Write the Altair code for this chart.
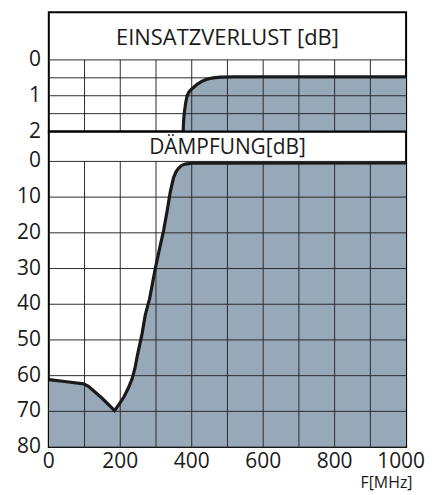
import altair as alt
import pandas as pd

# ---- data ----
freq_ticks = [0, 200, 400, 600, 800]
freq_last = [1000]
grid_freq = [100, 200, 300, 400, 500, 600, 700, 800, 900]
top_grid = [0, 0.5, 1, 1.5, 2]
top_labels = [0, 1, 2]
bot_grid = [0, 10, 20, 30, 40, 50, 60, 70, 80]
bot_labels = [0, 10, 20, 30, 40, 50, 60, 70, 80]

# Einsatzverlust [dB]
top_freq = [376, 377, 379, 383, 387, 392, 398, 405, 415, 428, 442, 460, 480, 520, 1000]
top_loss = [2.0, 1.75, 1.5, 1.2, 1.0, 0.9, 0.83, 0.77, 0.68, 0.6, 0.54, 0.5, 0.48, 0.47, 0.47]

# Dämpfung [dB]
bot_freq = [0, 50, 97, 111, 150, 184, 197, 210, 222, 233, 241, 247, 254, 261, 270,
            282, 298, 312, 321, 331, 340, 349, 356, 363, 372, 382, 400, 1000]
bot_att = [61.1, 61.7, 62.3, 63, 66.4, 69.8, 68, 66, 63.6, 60.9, 58, 54.8, 51.5, 48.3, 43,
           38.5, 30, 23.5, 19.5, 14, 8.5, 4.6, 2.9, 1.9, 1.1, 0.75, 0.46, 0.45]

FONT = "Open Sans"
FILL = "#97a9b8"
INK = "#1a1a1a"
GRID = "#2a2a2a"
W = 359

xs = alt.Scale(domain=[0, 1000], nice=False, zero=False)


def panel(freq, vals, ymax, band, height, grid_y, label_vals, title, title_size,
          title_y, bottom):
    df = pd.DataFrame({"f": freq, "v": vals})
    ys = alt.Scale(domain=[band, ymax], reverse=True, nice=False, zero=False)
    if bottom:
        xaxis = alt.Axis(labels=False, grid=False, ticks=False, domain=False,
                         title="F[MHz]", titleFont=FONT, titleFontSize=16,
                         titleFontWeight="normal", titleColor=INK, titleX=W + 6,
                         titleY=41, titleAlign="right", titleBaseline="alphabetic")
    else:
        xaxis = None
    yaxis = alt.Axis(labels=False, grid=False, ticks=False, domain=False,
                     minExtent=40, maxExtent=40, title=None)

    area = alt.Chart(df).mark_area(color=FILL, opacity=1, clip=True).encode(
        x=alt.X("f:Q", scale=xs, axis=xaxis),
        y=alt.Y("v:Q", scale=ys, axis=yaxis),
        y2=alt.datum(ymax),
    )
    vgrid = alt.Chart(pd.DataFrame({"g": grid_freq})).mark_rule(
        color=GRID, strokeWidth=1).encode(
        x=alt.X("g:Q", scale=xs), y=alt.datum(0), y2=alt.datum(ymax))
    hgrid = alt.Chart(pd.DataFrame({"h": grid_y})).mark_rule(
        color=GRID, strokeWidth=1).encode(
        y=alt.Y("h:Q", scale=ys), x=alt.datum(0), x2=alt.datum(1000))
    line = alt.Chart(df).mark_line(color=INK, strokeWidth=3.2, clip=True).encode(
        x=alt.X("f:Q", scale=xs), y=alt.Y("v:Q", scale=ys))
    txt = alt.Chart(pd.DataFrame({"t": [title]})).mark_text(
        font=FONT, fontSize=title_size, color=INK, align="center",
        baseline="alphabetic").encode(
        x=alt.datum(500), y=alt.datum(title_y), text="t:N")
    ylab = alt.Chart(pd.DataFrame({"l": label_vals,
                                   "s": [str(v) for v in label_vals]})).mark_text(
        font=FONT, fontSize=21, color=INK, align="right", baseline="middle", dx=-8).encode(
        x=alt.datum(0), y=alt.Y("l:Q", scale=ys), text="s:N")
    layers = [area, vgrid, hgrid, line, txt, ylab]
    if bottom:
        xlab = alt.Chart(pd.DataFrame({"k": freq_ticks,
                                       "s": [str(v) for v in freq_ticks]})).mark_text(
            font=FONT, fontSize=21, color=INK, align="center", baseline="top", dy=4).encode(
            x=alt.X("k:Q", scale=xs), y=alt.datum(ymax), text="s:N")
        xlab2 = alt.Chart(pd.DataFrame({"k": freq_last,
                                        "s": [str(v) for v in freq_last]})).mark_text(
            font=FONT, fontSize=21, color=INK, align="center", baseline="top",
            dy=4, dx=-5).encode(
            x=alt.X("k:Q", scale=xs), y=alt.datum(ymax), text="s:N")
        layers += [xlab, xlab2]
    return alt.layer(*layers).properties(width=W, height=height)


top = panel(top_freq, top_loss, 2, -1.3333, 120, top_grid, top_labels,
            "EINSATZVERLUST [dB]", 22, -0.41, False)
bottom = panel(bot_freq, bot_att, 80, -8.36, 317, bot_grid, bot_labels,
               "DÄMPFUNG[dB]", 21, -1.95, True)

chart = alt.vconcat(top, bottom, spacing=0, bounds="flush").properties(
    padding={"left": 0, "top": 2, "right": 0, "bottom": 0}
).configure_view(stroke="black", strokeWidth=2)

chart.save("out.html", embed_options={"renderer": "svg", "actions": False})
